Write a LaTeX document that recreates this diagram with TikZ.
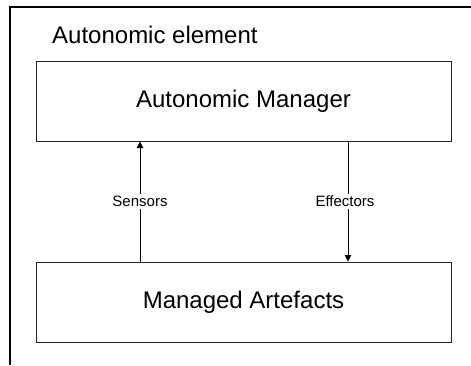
\documentclass[tikz,border=0pt]{standalone}
\usepackage{fontspec}
\setmainfont{Liberation Sans}
\usetikzlibrary{arrows.meta}
\begin{document}
\begin{tikzpicture}[x=1pt,y=-1pt,
  bigtext/.style={font=\fontsize{24}{28}\selectfont},
  box/.style={draw=black!85, line width=1pt, minimum width=415pt, minimum height=80pt, inner sep=0pt, bigtext},
  lab/.style={fill=white, inner sep=2pt, font=\fontsize{15}{18}\selectfont},
  conn/.style={draw=black, line width=0.9pt, -{Triangle[length=6.5pt,width=6.5pt]}}]
\useasboundingbox (0,0) rectangle (471,365);
\fill[white] (0,0) rectangle (471,365);
% outer element frame (open at right and bottom)
\draw[line width=1.1pt] (10,365) -- (10,7) -- (471,7);
\node[anchor=base west, bigtext, inner sep=0pt] (title) at (52,43) {Autonomic element};
\node[box] (am) at (243.5,101) {Autonomic Manager};
\node[box] (ma) at (243.5,302) {Managed Artefacts};
\coordinate (s0) at (140,262);
\coordinate (e0) at (348,141);
\draw[conn] (ma.north -| s0) -- node[lab] {Sensors} (am.south -| s0);
\draw[conn] (am.south -| e0) -- node[lab, xshift=-3pt] {Effectors} (ma.north -| e0);
\end{tikzpicture}
\end{document}
